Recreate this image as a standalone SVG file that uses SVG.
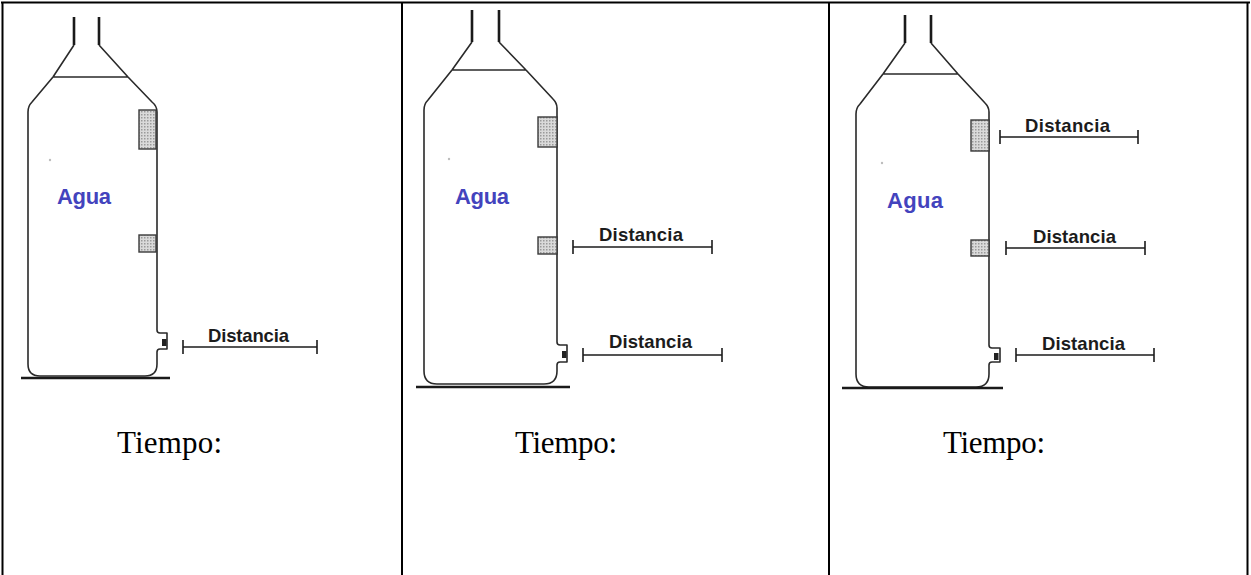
<svg xmlns="http://www.w3.org/2000/svg" width="1251" height="575" viewBox="0 0 1251 575">
  <style>
    .frame { stroke: #000; stroke-width: 2; fill: none; }
    .outline { stroke: #2a2a2a; stroke-width: 1.6; fill: none; stroke-linejoin: round; }
    .spout { stroke: #1a1a1a; stroke-width: 2.6; fill: none; }
    .ground { stroke: #1a1a1a; stroke-width: 2.6; fill: none; }
    .vent { fill: url(#dots); stroke: #3a3a3a; stroke-width: 1.4; }
    .agua { font-family: "Liberation Sans", Arial, sans-serif; font-weight: bold; font-size: 22px; fill: #4343bd; }
    .dist { font-family: "Liberation Sans", Arial, sans-serif; font-weight: bold; font-size: 18.5px; fill: #1c1c1c; }
    .dim { stroke: #1c1c1c; stroke-width: 1.6; fill: none; }
    .tiempo { font-family: "Liberation Serif", "Times New Roman", serif; font-size: 31px; fill: #000; }
    .speck { fill: #bdbdbd; }
  </style>
  <defs>
    <pattern id="dots" width="3" height="3" patternUnits="userSpaceOnUse">
      <rect width="3" height="3" fill="#dadada"/>
      <rect x="0" y="0" width="1.5" height="1.5" fill="#9a9a9a"/>
    </pattern>
  </defs>

  <rect width="1251" height="575" fill="#fff"/>

  <!-- table frame -->
  <g id="table">
    <line class="frame" x1="1" y1="2.5" x2="1250" y2="2.5" stroke-width="2.5"/>
    <line class="frame" x1="2.5" y1="2" x2="2.5" y2="575"/>
    <line class="frame" x1="402" y1="2" x2="402" y2="575"/>
    <line class="frame" x1="829" y1="2" x2="829" y2="575"/>
    <line class="frame" x1="1247.5" y1="2" x2="1247.5" y2="575"/>
  </g>

  <!-- panel 1: bottle with one open hole at the bottom -->
  <g id="bottle-1">
    <path class="spout" d="M74,17 V45 M99,17 V45"/>
    <path class="outline" d="M74,45 L53,77 M99,45 L128,77 M53,77 H128"/>
    <path class="outline" d="M53,77 L32,102 Q28,106 28,112 V364 Q28,376 40,376 H145 Q157,376 157,364 V352 Q157,349 160,349 H167 V333 H160 Q157,333 157,330 V112 Q157,106 152,102 L128,77"/>
    <rect x="162" y="339" width="4.5" height="7" fill="#222"/>
    <path class="ground" d="M21,378 H170"/>
    <rect class="vent" x="139" y="110" width="17" height="39"/>
    <rect class="vent" x="139" y="235" width="17" height="17"/>
    <circle class="speck" cx="50" cy="160" r="1.2"/>
    <text class="agua" x="57" y="204" textLength="54">Agua</text>
  </g>
  <g id="tiempo-1">
    <text class="tiempo" x="117" y="453" textLength="105">Tiempo:</text>
  </g>

  <!-- panel 2: bottle with two open holes -->
  <g id="bottle-2">
    <path class="spout" d="M472,10 V42 M499,10 V42"/>
    <path class="outline" d="M472,42 L452,70 M499,42 L526,70 M452,70 H526"/>
    <path class="outline" d="M452,70 L428,100 Q424,104 424,110 V371 Q424,384 437,384 H544 Q557,384 557,371 V365 Q557,362 560,362 H567 V345 H560 Q557,345 557,342 V108 Q557,103 553,99 L526,70"/>
    <rect x="562" y="351" width="4.5" height="7" fill="#222"/>
    <path class="ground" d="M416,387 H570"/>
    <rect class="vent" x="538" y="117" width="19" height="30"/>
    <rect class="vent" x="538" y="237" width="19" height="17"/>
    <circle class="speck" cx="449" cy="159" r="1.2"/>
    <text class="agua" x="455" y="204" textLength="54">Agua</text>
  </g>
  <g id="tiempo-2">
    <text class="tiempo" x="515" y="453" textLength="102">Tiempo:</text>
  </g>

  <!-- panel 3: bottle with three open holes -->
  <g id="bottle-3">
    <path class="spout" d="M905,15 V43 M931,15 V43"/>
    <path class="outline" d="M905,43 L883,74 M931,43 L958,74 M883,74 H958"/>
    <path class="outline" d="M883,74 L860,104 Q856,108 856,114 V374 Q856,387 869,387 H976 Q989,387 989,374 V365 Q989,362 992,362 H1000 V348 H992 Q989,348 989,345 V112 Q989,107 985,103 L958,74"/>
    <rect x="994" y="353" width="4.5" height="7" fill="#222"/>
    <path class="ground" d="M842,388 H1003"/>
    <rect class="vent" x="971" y="120" width="18" height="31"/>
    <rect class="vent" x="971" y="240" width="18" height="16"/>
    <circle class="speck" cx="882" cy="163" r="1.2"/>
    <text class="agua" x="887" y="208" textLength="56">Agua</text>
  </g>
  <g id="tiempo-3">
    <text class="tiempo" x="943" y="453" textLength="102">Tiempo:</text>
  </g>

  <!-- jet distance markers -->
  <g id="connectors">
    <path class="dim" d="M183,347 H317 M183,340 V354 M317,340 V354"/>
    <path class="dim" d="M573,247 H712 M573,240 V254 M712,240 V254"/>
    <path class="dim" d="M583,355 H722 M583,348 V362 M722,348 V362"/>
    <path class="dim" d="M1000,137 H1138 M1000,130 V144 M1138,130 V144"/>
    <path class="dim" d="M1006,248 H1145 M1006,241 V255 M1145,241 V255"/>
    <path class="dim" d="M1016,355 H1154 M1016,348 V362 M1154,348 V362"/>
  </g>
  <g id="labels">
    <text class="dist" x="208" y="342" textLength="81">Distancia</text>
    <text class="dist" x="599" y="241" textLength="84">Distancia</text>
    <text class="dist" x="609" y="348" textLength="83">Distancia</text>
    <text class="dist" x="1025" y="132" textLength="85">Distancia</text>
    <text class="dist" x="1033" y="243" textLength="83">Distancia</text>
    <text class="dist" x="1042" y="350" textLength="83">Distancia</text>
  </g>
</svg>
